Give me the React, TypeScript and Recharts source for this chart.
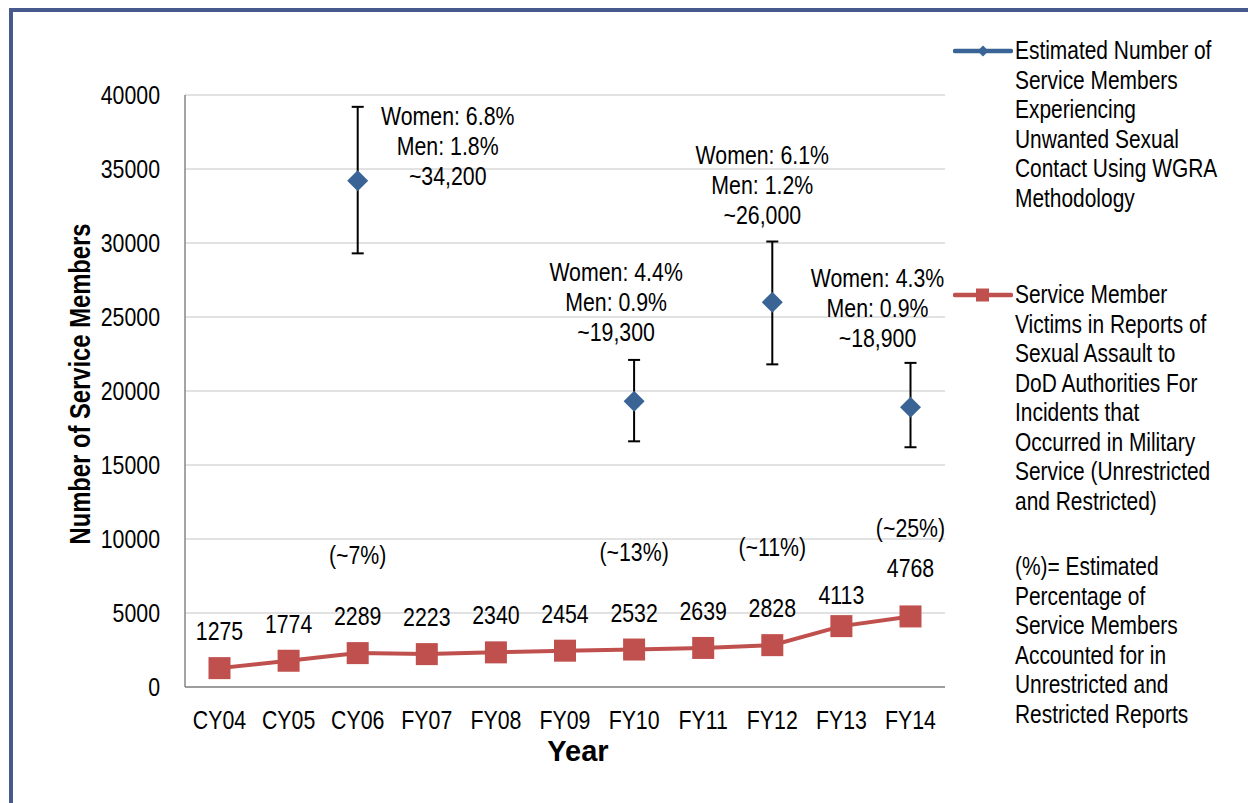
import React from 'react';
import { LineChart, Line, XAxis, YAxis, CartesianGrid, ErrorBar, LabelList } from 'recharts';

const years = ['CY04', 'CY05', 'CY06', 'FY07', 'FY08', 'FY09', 'FY10', 'FY11', 'FY12', 'FY13', 'FY14'];
const reportedVictims = [1275, 1774, 2289, 2223, 2340, 2454, 2532, 2639, 2828, 4113, 4768];
const reportShare = [null, null, '(~7%)', null, null, null, '(~13%)', null, '(~11%)', null, '(~25%)'];
const estimatedNumber = [null, null, 34200, null, null, null, 19300, null, 26000, null, 18900];
const estimatedLow = [null, null, 29300, null, null, null, 16600, null, 21800, null, 16200];
const estimatedHigh = [null, null, 39200, null, null, null, 22100, null, 30100, null, 21900];
const womenRate = [null, null, '6.8%', null, null, null, '4.4%', null, '6.1%', null, '4.3%'];
const menRate = [null, null, '1.8%', null, null, null, '0.9%', null, '1.2%', null, '0.9%'];
const estimatedText = [null, null, '~34,200', null, null, null, '~19,300', null, '~26,000', null, '~18,900'];
const yTicks = [0, 5000, 10000, 15000, 20000, 25000, 30000, 35000, 40000];

const data = years.map((year, i) => ({
  year,
  reports: reportedVictims[i],
  share: reportShare[i],
  estimated: estimatedNumber[i],
  estErr:
    estimatedNumber[i] == null
      ? null
      : [estimatedNumber[i]! - estimatedLow[i]!, estimatedHigh[i]! - estimatedNumber[i]!],
}));

const FONT = "'Liberation Sans', Arial, sans-serif";
const BLUE = '#3B6496';
const RED = '#C0504D';
const FS = 26;
const NARROW = 0.82;

// label placement (presentation only)
const estLabelShift: Record<number, [number, number]> = {
  2: [90, -65],
  6: [-18, -129],
  8: [-10, -147],
  10: [-33, -129],
};
const numberOffset = (i: number) => (i === 9 ? -31 : i === 10 ? -49 : -37);
const shareOffset = (i: number) => (i === 10 ? -89 : -98);

const getXY = (p: any) => {
  const x = p.x ?? p.viewBox?.x;
  const y = p.y ?? p.viewBox?.y;
  return [x, y];
};

const NText = ({
  x,
  y,
  anchor = 'middle',
  dy = '0.35em',
  size = FS,
  weight = 'normal',
  children,
}: any) => (
  <g transform={`translate(${x} ${y}) scale(${NARROW} 1)`}>
    <text x={0} y={0} dy={dy} textAnchor={anchor} fontFamily={FONT} fontSize={size} fontWeight={weight} fill="#000">
      {children}
    </text>
  </g>
);

const Diamond = (props: any) => {
  const { cx, cy, payload, index } = props;
  if (cx == null || cy == null || payload?.estimated == null) return <g key={`d-${index}`} />;
  const r = 10.5;
  return (
    <path
      key={`d-${index}`}
      d={`M${cx} ${cy - r} L${cx + r} ${cy} L${cx} ${cy + r} L${cx - r} ${cy} Z`}
      fill={BLUE}
    />
  );
};

const Square = (props: any) => {
  const { cx, cy, index } = props;
  if (cx == null || cy == null) return <g key={`s-${index}`} />;
  const h = 11;
  return <rect key={`s-${index}`} x={cx - h} y={cy - h} width={2 * h} height={2 * h} fill={RED} />;
};

const EstLabel = (props: any) => {
  const { index } = props;
  const [x, y] = getXY(props);
  if (x == null || y == null || estimatedText[index] == null) return null;
  const [dx, dy] = estLabelShift[index] || [0, -130];
  const lines = [`Women: ${womenRate[index]}`, `Men: ${menRate[index]}`, estimatedText[index]];
  return (
    <g transform={`translate(${x + dx} ${y + dy}) scale(${NARROW} 1)`}>
      <text textAnchor="middle" fontFamily={FONT} fontSize={FS} fill="#000">
        {lines.map((l, k) => (
          <tspan key={k} x={0} y={k * 30} dy="0.35em">
            {l}
          </tspan>
        ))}
      </text>
    </g>
  );
};

const NumberLabel = (props: any) => {
  const { index, value } = props;
  const [x, y] = getXY(props);
  if (x == null || y == null || value == null) return null;
  return <NText x={x} y={y + numberOffset(index)}>{value}</NText>;
};

const ShareLabel = (props: any) => {
  const { index } = props;
  const [x, y] = getXY(props);
  const v = reportShare[index];
  if (x == null || y == null || v == null) return null;
  return <NText x={x} y={y + shareOffset(index)}>{v}</NText>;
};

const XTick = (props: any) => {
  const { x, y, payload } = props;
  return (
    <NText x={x} y={y} dy="0.71em">
      {payload.value}
    </NText>
  );
};

const YTick = (props: any) => {
  const { x, y, payload } = props;
  return (
    <NText x={x} y={y} anchor="end">
      {payload.value}
    </NText>
  );
};

const legendText: React.CSSProperties = {
  position: 'absolute',
  left: 1015,
  fontFamily: FONT,
  fontSize: 25.5,
  lineHeight: '29.5px',
  color: '#000',
  whiteSpace: 'nowrap',
  transform: `scaleX(${NARROW})`,
  transformOrigin: 'left top',
};

export default function App() {
  return (
    <div
      style={{
        position: 'absolute',
        left: 0,
        top: 0,
        width: 1248,
        height: 803,
        overflow: 'hidden',
        background: '#fff',
      }}
    >
      <div
        style={{
          position: 'absolute',
          left: 9,
          top: 8,
          width: 1400,
          height: 1000,
          border: '4px solid #475A8B',
          boxSizing: 'border-box',
        }}
      />
      <div style={{ position: 'absolute', left: 0, top: 0 }}>
        <LineChart width={1248} height={803} data={data} margin={{ top: 95, right: 303, bottom: 56, left: 0 }}>
          <CartesianGrid vertical={false} stroke="#D9D9D9" strokeWidth={1.5} />
          <XAxis
            dataKey="year"
            height={60}
            padding={{ left: 34.5, right: 34.5 }}
            tickLine={false}
            tickSize={0}
            tickMargin={24}
            axisLine={{ stroke: '#868686', strokeWidth: 1.5 }}
            tick={XTick}
            interval={0}
            label={{
              content: (p: any) => {
                const vb = p.viewBox;
                return (
                  <text
                    x={vb.x + vb.width / 2 + 13}
                    y={vb.y + 64}
                    dy="0.35em"
                    textAnchor="middle"
                    fontFamily={FONT}
                    fontSize={29}
                    fontWeight="bold"
                    fill="#000"
                  >
                    Year
                  </text>
                );
              },
            }}
          />
          <YAxis
            width={185}
            domain={[0, 40000]}
            ticks={yTicks}
            interval={0}
            tickLine={false}
            tickSize={0}
            tickMargin={25}
            axisLine={{ stroke: '#868686', strokeWidth: 1.5 }}
            tick={YTick}
            label={{
              content: (p: any) => {
                const vb = p.viewBox;
                const cx = vb.x + 80;
                const cy = vb.y + vb.height / 2 - 7;
                return (
                  <g transform={`translate(${cx} ${cy}) rotate(-90) scale(${NARROW} 1)`}>
                    <text
                      x={0}
                      y={0}
                      dy="0.35em"
                      textAnchor="middle"
                      fontFamily={FONT}
                      fontSize={29}
                      fontWeight="bold"
                      fill="#000"
                    >
                      Number of Service Members
                    </text>
                  </g>
                );
              },
            }}
          />
          <Line
            dataKey="reports"
            stroke={RED}
            strokeWidth={4}
            dot={Square}
            activeDot={false}
            isAnimationActive={false}
          >
            <LabelList dataKey="reports" content={NumberLabel} />
            <LabelList dataKey="share" content={ShareLabel} />
          </Line>
          <Line
            dataKey="estimated"
            stroke={BLUE}
            strokeWidth={4}
            dot={Diamond}
            activeDot={false}
            connectNulls={false}
            isAnimationActive={false}
          >
            <ErrorBar dataKey="estErr" width={6} strokeWidth={2} stroke="#000" direction="y" />
            <LabelList dataKey="estimated" content={EstLabel} />
          </Line>
        </LineChart>
      </div>

      {/* Legend */}
      <svg style={{ position: 'absolute', left: 953, top: 40 }} width={60} height={22}>
        <line x1={2} y1={11} x2={58} y2={11} stroke={BLUE} strokeWidth={4.5} strokeLinecap="round" />
        <path d="M30 5.5 L35.5 11 L30 16.5 L24.5 11 Z" fill={BLUE} />
      </svg>
      <div style={{ ...legendText, top: 36 }}>
        Estimated Number of
        <br />
        Service Members
        <br />
        Experiencing
        <br />
        Unwanted Sexual
        <br />
        Contact Using WGRA
        <br />
        Methodology
      </div>

      <svg style={{ position: 'absolute', left: 953, top: 284 }} width={60} height={22}>
        <line x1={2} y1={11} x2={58} y2={11} stroke={RED} strokeWidth={4.5} strokeLinecap="round" />
        <rect x={23} y={4.5} width={13} height={13} fill={RED} />
      </svg>
      <div style={{ ...legendText, top: 280 }}>
        Service Member
        <br />
        Victims in Reports of
        <br />
        Sexual Assault to
        <br />
        DoD Authorities For
        <br />
        Incidents that
        <br />
        Occurred in Military
        <br />
        Service (Unrestricted
        <br />
        and Restricted)
      </div>

      <div style={{ ...legendText, top: 552 }}>
        (%)= Estimated
        <br />
        Percentage of
        <br />
        Service Members
        <br />
        Accounted for in
        <br />
        Unrestricted and
        <br />
        Restricted Reports
      </div>
    </div>
  );
}
